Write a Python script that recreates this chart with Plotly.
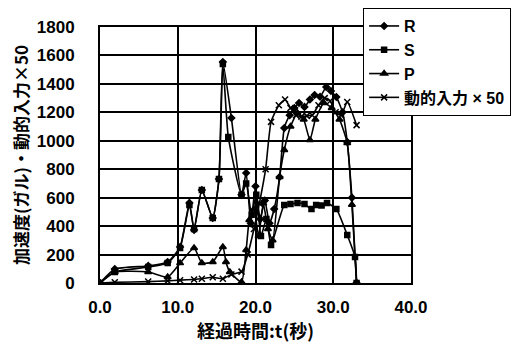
import plotly.graph_objects as go

# ---- data ----
R_t = [0, 1.9, 6.2, 8.7, 10.3, 11.5, 12.1, 13.1, 14.5, 15.3, 15.8, 16.9, 18.2, 18.8, 19.4, 20.0, 20.6, 21.2,
       21.8, 22.4, 23.1, 23.7, 24.4, 25.0, 25.6, 26.3, 27.0, 27.6, 28.3, 29.1, 29.7, 30.4, 31.2, 31.8, 32.4, 33.0]
R_v = [0, 98, 120, 148, 253, 563, 373, 654, 457, 731, 1554, 1160, 620, 773, 420, 680, 450, 580,
       420, 520, 745, 1090, 1180, 1230, 1266, 1238, 1290, 1322, 1310, 1378, 1350, 1308, 1200, 991, 600, 0]

S_t = [0, 1.9, 6.2, 8.7, 10.3, 11.5, 12.1, 13.1, 14.5, 15.3, 15.8, 16.5, 18.2, 18.8, 19.5, 20.1, 20.7, 21.4,
       22.0, 23.7, 24.5, 25.4, 26.3, 27.2, 27.8, 28.5, 29.2, 30.4, 31.8, 32.8, 33.0]
S_v = [0, 77, 113, 140, 246, 548, 380, 654, 457, 731, 1540, 1027, 620, 700, 480, 620, 330, 450,
       267, 548, 555, 562, 555, 520, 548, 545, 562, 520, 337, 183, 0]

P_t = [0, 1.9, 6.2, 8.7, 10.3, 12.1, 13.1, 14.5, 15.8, 16.2, 16.7, 18.2, 18.8, 19.2, 19.8, 20.4, 21.0, 21.6,
       22.2, 23.1, 23.7, 24.5, 25.4, 26.2, 27.0, 27.7, 28.8, 29.8, 30.8, 31.8, 32.4, 33.0]
P_v = [0, 77, 77, 42, 140, 246, 141, 148, 253, 148, 77, 7, 232, 443, 520, 330, 560, 380,
       300, 745, 935, 1100, 1195, 1150, 1005, 1150, 1266, 1230, 1150, 984, 550, 0]

X_t = [0, 1.9, 6.2, 8.7, 10.3, 12.1, 13.1, 14.5, 15.8, 16.9, 18.2, 19.0, 19.8, 20.5, 21.3, 22.0, 23.0, 23.8,
       24.5, 25.2, 25.9, 26.6, 27.3, 28.1, 28.9, 29.6, 30.3, 31.0, 31.8, 33.0]
X_v = [0, 5, 10, 15, 20, 25, 30, 40, 30, 60, 80, 200, 380, 560, 800, 1133, 1250, 1290,
       1230, 1180, 1170, 1175, 1180, 1250, 1300, 1280, 1200, 1180, 1273, 1110]

series_names = ["R", "S", "P", "動的入力 × 50"]
x_ticks = [0, 10, 20, 30, 40]
y_ticks = [0, 200, 400, 600, 800, 1000, 1200, 1400, 1600, 1800]

FONT = "Liberation Sans, Arial, Noto Sans CJK JP, sans-serif"
JFONT = "Noto Sans CJK JP, Liberation Sans, sans-serif"

fig = go.Figure()
specs = [
    (R_t, R_v, "diamond", 5),
    (S_t, S_v, "square", 5),
    (P_t, P_v, "triangle-up", 6),
    (X_t, X_v, "x-thin-open", 6),
]
for (t, v, sym, sz), name in zip(specs, series_names):
    fig.add_trace(go.Scatter(
        x=t, y=v, name=name, mode="lines+markers",
        line=dict(color="black", width=1.6, shape="spline", smoothing=0.5),
        marker=dict(symbol=sym, size=sz, color="black",
                    line=dict(color="black", width=1.5)),
    ))

fig.update_layout(
    width=524, height=338,
    margin=dict(l=92, r=121, t=19, b=63, autoexpand=False),
    paper_bgcolor="white", plot_bgcolor="white",
    font=dict(family=FONT, color="black", size=14),
    showlegend=True,
    legend=dict(
        x=0.846, y=1.074, xanchor="left", yanchor="top",
        bgcolor="white", bordercolor="black", borderwidth=1,
        font=dict(family=FONT, size=16, weight="bold"),
        tracegroupgap=0, itemwidth=30,
    ),
)
fig.update_xaxes(
    range=[0, 40], tickvals=x_ticks, tickformat=".1f", automargin=False,
    showgrid=True, gridcolor="black", gridwidth=1.5,
    showline=True, linecolor="black", linewidth=2, mirror=True,
    ticks="", ticklabelstandoff=8, zeroline=False,
    tickfont=dict(family=FONT, size=17, weight="bold"),
    title=dict(text="経過時間:t(秒)", standoff=8,
               font=dict(family=JFONT, size=18, weight="bold")),
)
fig.update_yaxes(
    range=[0, 1800], tickvals=y_ticks, automargin=False,
    showgrid=True, gridcolor="black", gridwidth=1.5,
    showline=True, linecolor="black", linewidth=2, mirror=True,
    ticks="", ticklabelstandoff=20, zeroline=False,
    tickfont=dict(family=FONT, size=17, weight="bold"),
    title=dict(text="加速度(ガル)・動的入力×50", standoff=7,
               font=dict(family=JFONT, size=17, weight="bold")),
)

fig.write_html("out.html")
